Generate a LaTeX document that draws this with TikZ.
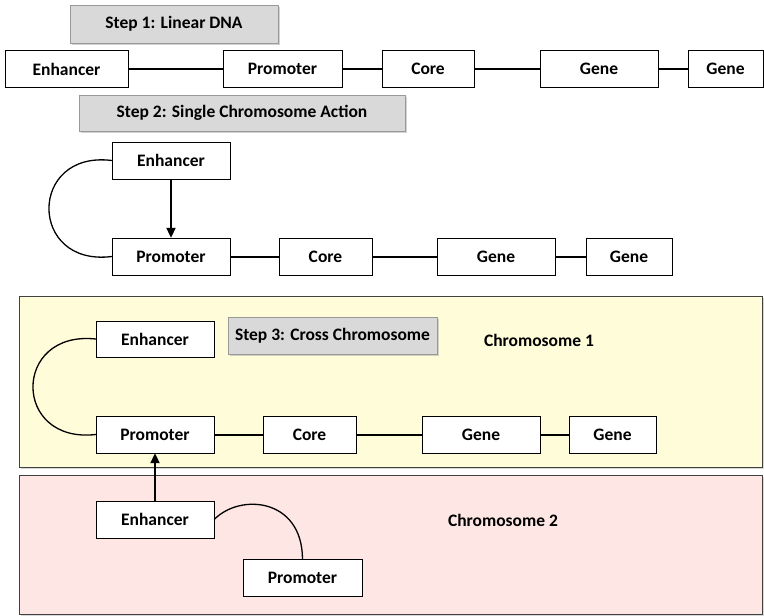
\documentclass[tikz,border=0pt]{standalone}
\usepackage{fontspec}
\setmainfont{Carlito}
\usetikzlibrary{arrows.meta,shadows}

\definecolor{chromA}{HTML}{FFFDD9}
\definecolor{chromB}{HTML}{FDE6E4}
\definecolor{stepgray}{HTML}{D9D9D9}

\tikzset{
  blk/.style={draw, fill=white, minimum height=37pt, inner sep=0pt, font=\fontsize{17.5}{20}\selectfont\bfseries},
  stepbox/.style={draw=gray!80, fill=stepgray, inner sep=0pt, font=\fontsize{17.5}{20}\selectfont\bfseries,
    drop shadow={shadow xshift=1.5pt, shadow yshift=-1.5pt, fill=gray!70}},
  panel/.style={draw=black!75, line width=1pt, drop shadow={shadow xshift=1.5pt, shadow yshift=-1.5pt, fill=gray!60}},
  link/.style={line width=2pt},
  loop/.style={line width=1.3pt},
  push/.style={line width=2pt, -{Triangle[length=10pt,width=9pt]}}
}

\begin{document}
\begin{tikzpicture}[x=1pt,y=-1pt]
\useasboundingbox (0,0) rectangle (764,616);

\node[stepbox, minimum width=208pt, minimum height=38pt] (step1) at (174,24) {Step 1: Linear DNA};
\node[blk, minimum width=123pt] (enh1) at (66.5,69) {Enhancer};
\node[blk, minimum width=119pt] (pro1) at (282.5,69) {Promoter};
\node[blk, minimum width=92pt] (core1) at (428,69) {Core};
\node[blk, minimum width=118pt] (geneA1) at (599,69) {Gene};
\node[blk, minimum width=75pt] (geneB1) at (725.5,69) {Gene};
\draw[link] (enh1) -- (pro1);
\draw[link] (pro1) -- (core1);
\draw[link] (core1) -- (geneA1);
\draw[link] (geneA1) -- (geneB1);

\node[stepbox, minimum width=326pt, minimum height=36pt] (step2) at (242,113) {Step 2: Single Chromosome Action};
\node[blk, minimum width=118pt] (enh2) at (171,160.5) {Enhancer};
\node[blk, minimum width=118pt] (pro2) at (171,256.5) {Promoter};
\node[blk, minimum width=93pt] (core2) at (325.5,256.5) {Core};
\node[blk, minimum width=118pt] (geneA2) at (496,256.5) {Gene};
\node[blk, minimum width=86pt] (geneB2) at (629,256.5) {Gene};
\draw[loop] (enh2.west) .. controls (28,150) and (28,267) .. (pro2.west);
\draw[push] (enh2) -- (pro2);
\draw[link] (pro2) -- (core2);
\draw[link] (core2) -- (geneA2);
\draw[link] (geneA2) -- (geneB2);

\draw[panel, fill=chromA] (19,296) rectangle (762,467);
\draw[panel, fill=chromB] (19,475) rectangle (762,614);

\node[blk, minimum width=118pt, minimum height=36pt] (enh3) at (155,339) {Enhancer};
\node[stepbox, minimum width=209pt, minimum height=37pt] (step3) at (332.5,335.5) {Step 3: Cross Chromosome};
\node[font=\fontsize{17.5}{20}\selectfont\bfseries] (chr1) at (539,340) {Chromosome 1};
\node[blk, minimum width=118pt] (pro3) at (155,434.5) {Promoter};
\node[blk, minimum width=93pt] (core3) at (309.5,434.5) {Core};
\node[blk, minimum width=118pt] (geneA3) at (481,434.5) {Gene};
\node[blk, minimum width=87pt] (geneB3) at (612.5,434.5) {Gene};
\draw[loop] (enh3.west) .. controls (12,330) and (12,444) .. (pro3.west);
\draw[link] (pro3) -- (core3);
\draw[link] (core3) -- (geneA3);
\draw[link] (geneA3) -- (geneB3);

\node[blk, minimum width=118pt] (enh4) at (155,519.5) {Enhancer};
\node[blk, minimum width=119pt] (pro4) at (302.5,577.5) {Promoter};
\node[font=\fontsize{17.5}{20}\selectfont\bfseries] (chr2) at (503,520) {Chromosome 2};
\draw[loop] (enh4.east) .. controls (240,493) and (302,498) .. (pro4.north);
\draw[push] (enh4) -- (pro3);

\end{tikzpicture}
\end{document}
